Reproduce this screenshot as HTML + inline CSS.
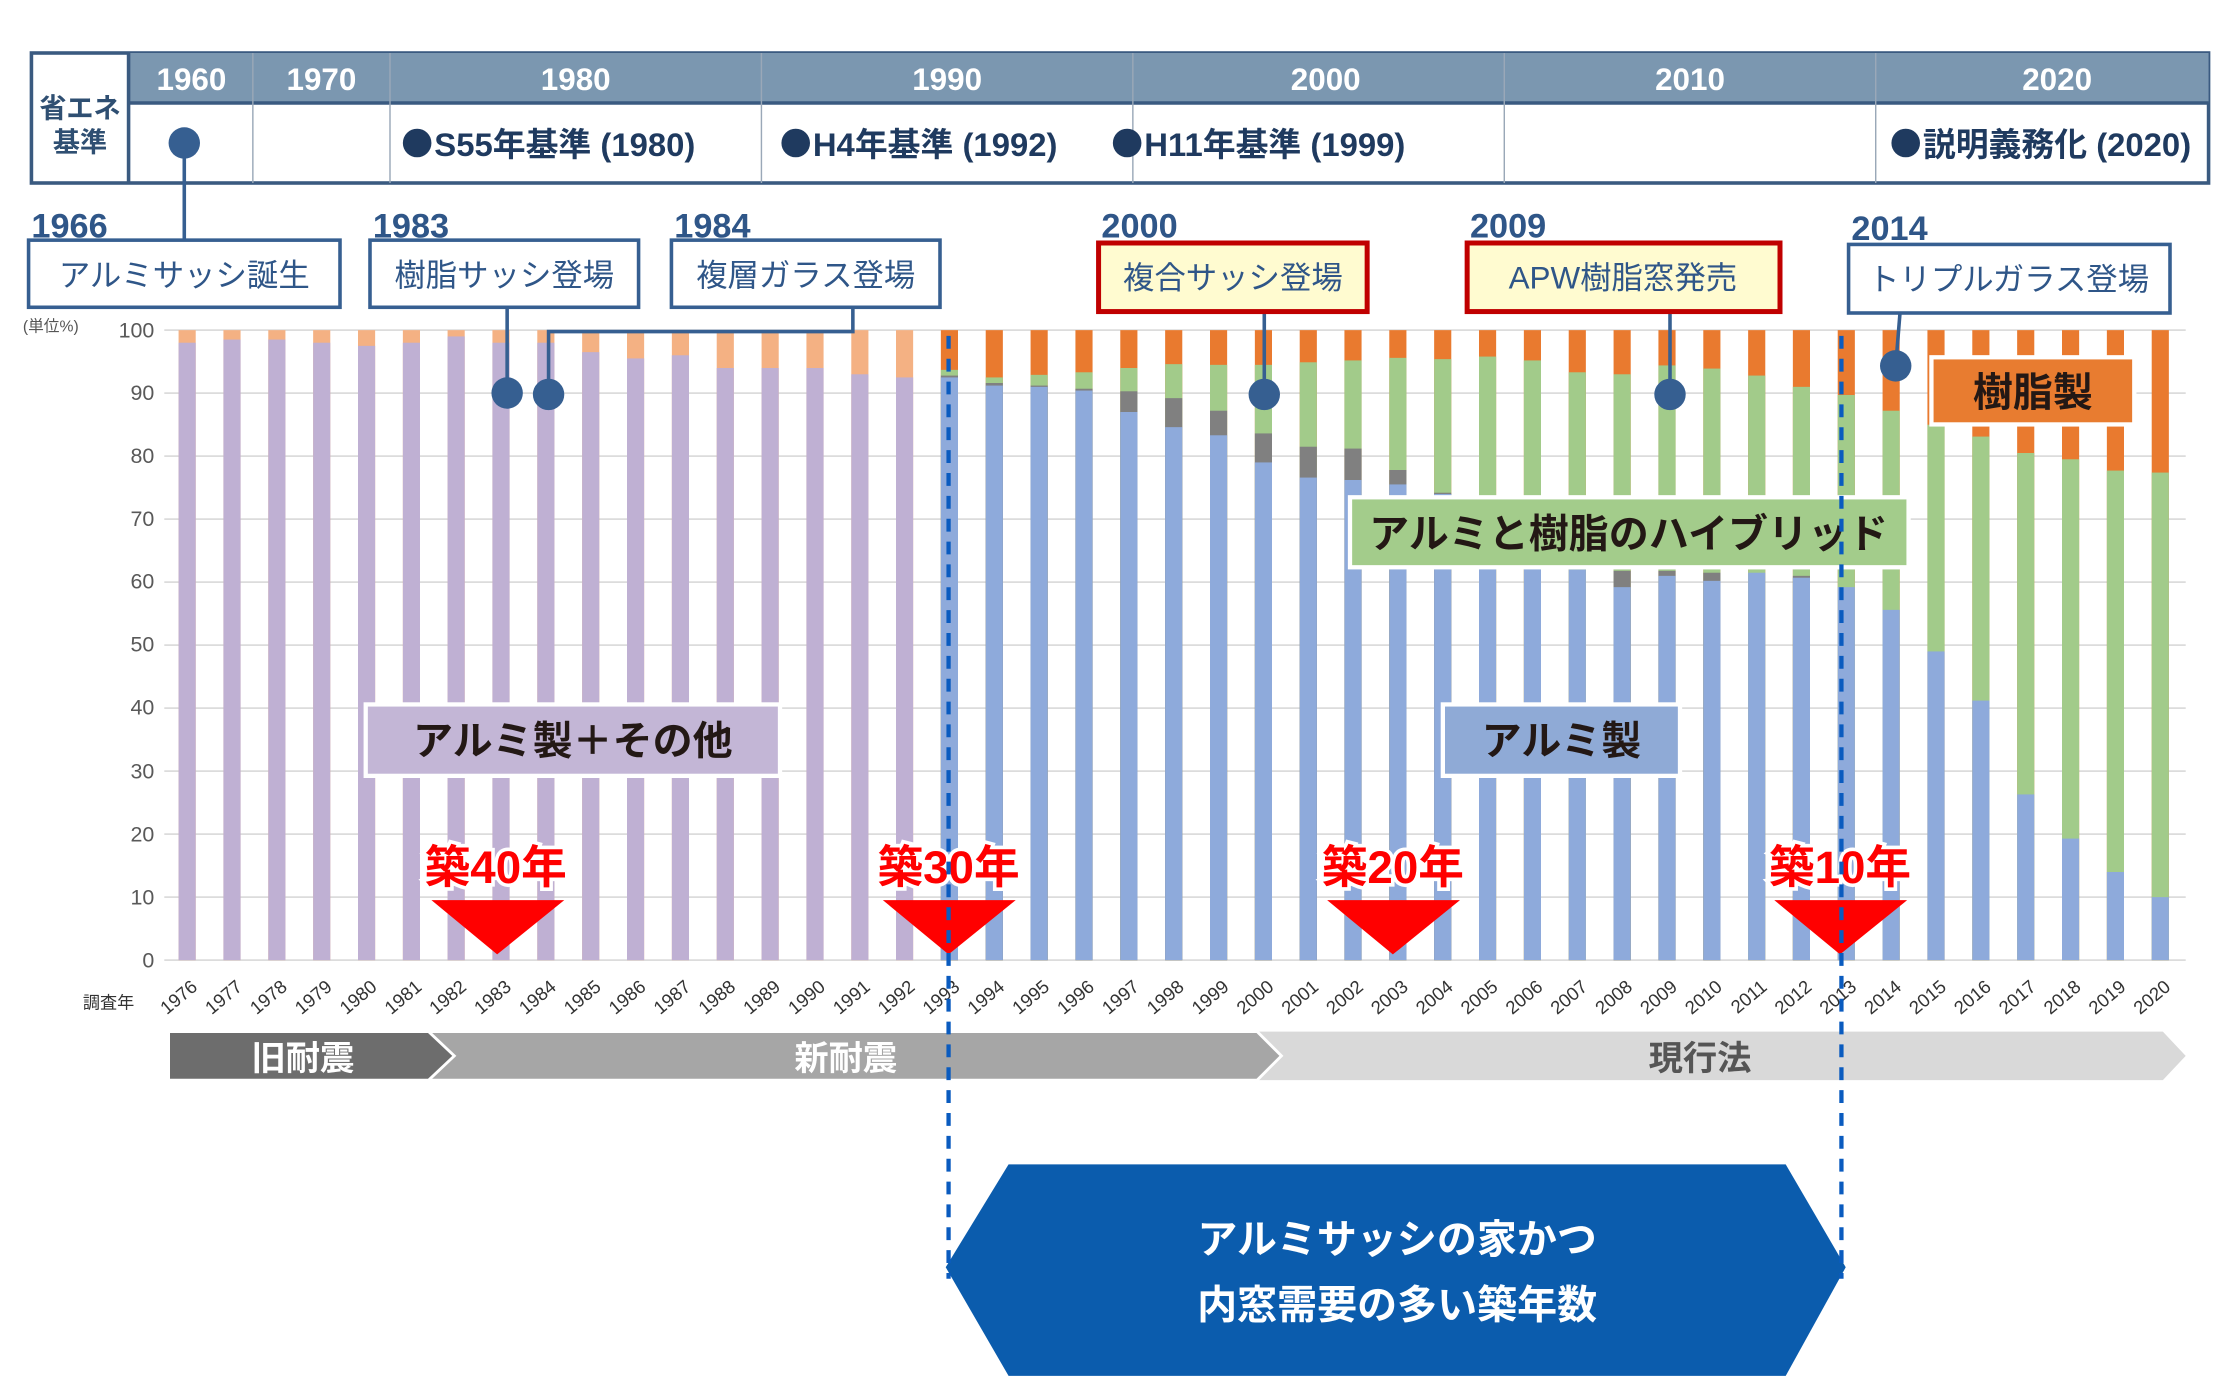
<!DOCTYPE html>
<html><head><meta charset="utf-8">
<style>
html,body{margin:0;padding:0;background:#fff;}
svg{display:block;font-family:"Liberation Sans","Noto Sans CJK JP",sans-serif;}
.lo{fill:#f4b183}.pu{fill:#bfb0d3}.or{fill:#e97a2f}.gr{fill:#a2cb8a}.gy{fill:#808080}.bl{fill:#8eaadb}
rect.b{width:12px}
.yl{font-size:15px;fill:#595959;text-anchor:end}
.xl{font-size:13px;fill:#333;text-anchor:end}
.ev{font-size:22px;fill:#2f5688}
.yr{font-size:24px;font-weight:bold;fill:#2f5688}
.st{font-size:23px;font-weight:bold;fill:#1f3a5f}
.red{font-size:32px;font-weight:bold;fill:#ff0000;stroke:#fff;stroke-width:5px;paint-order:stroke;text-anchor:middle}
.lb{font-size:28px;font-weight:bold;fill:#231815;text-anchor:middle}
</style></head><body>
<svg width="2240" height="1376" viewBox="0 0 1568 963" xmlns="http://www.w3.org/2000/svg">
<rect x="22" y="37" width="1524" height="91" fill="#fff" stroke="#3a5a80" stroke-width="2.5"/>
<rect x="90" y="37" width="1456" height="35" fill="#7b97b0"/>
<line x1="90" y1="37" x2="90" y2="128" stroke="#3a5a80" stroke-width="2.5"/>
<line x1="90" y1="72" x2="1546" y2="72" stroke="#3a5a80" stroke-width="2.5"/>
<g stroke="#9aa8b8" stroke-width="1">
<line x1="177" y1="37" x2="177" y2="128"/><line x1="273" y1="37" x2="273" y2="128"/><line x1="533" y1="37" x2="533" y2="128"/><line x1="793" y1="37" x2="793" y2="128"/><line x1="1053" y1="37" x2="1053" y2="128"/><line x1="1313" y1="37" x2="1313" y2="128"/>
</g>
<g font-size="22" font-weight="bold" fill="#fff" text-anchor="middle">
<text x="134" y="63">1960</text><text x="225" y="63">1970</text><text x="403" y="63">1980</text><text x="663" y="63">1990</text><text x="928" y="63">2000</text><text x="1183" y="63">2010</text><text x="1440" y="63">2020</text>
</g>
<text x="56" y="82" font-size="19" font-weight="bold" fill="#2f4f72" text-anchor="middle">省エネ</text>
<text x="56" y="106" font-size="19" font-weight="bold" fill="#2f4f72" text-anchor="middle">基準</text>
<g fill="#1f3a5f"><circle cx="292" cy="100" r="10"/><circle cx="557" cy="100" r="10"/><circle cx="789" cy="100" r="10"/><circle cx="1334" cy="100" r="10"/></g>
<text x="304" y="109" class="st">S55年基準 (1980)</text>
<text x="569" y="109" class="st">H4年基準 (1992)</text>
<text x="801" y="109" class="st">H11年基準 (1999)</text>
<text x="1346" y="109" class="st">説明義務化 (2020)</text>
<g stroke="#dcdcdc" stroke-width="1.2">
<line x1="115" y1="231" x2="1530" y2="231"/><line x1="115" y1="275.1" x2="1530" y2="275.1"/><line x1="115" y1="319.2" x2="1530" y2="319.2"/><line x1="115" y1="363.3" x2="1530" y2="363.3"/><line x1="115" y1="407.4" x2="1530" y2="407.4"/><line x1="115" y1="451.5" x2="1530" y2="451.5"/><line x1="115" y1="495.6" x2="1530" y2="495.6"/><line x1="115" y1="539.7" x2="1530" y2="539.7"/><line x1="115" y1="583.8" x2="1530" y2="583.8"/><line x1="115" y1="627.9" x2="1530" y2="627.9"/><line x1="115" y1="672" x2="1530" y2="672"/>
</g>
<g>
<text x="108" y="236" class="yl">100</text><text x="108" y="280" class="yl">90</text><text x="108" y="324" class="yl">80</text><text x="108" y="368" class="yl">70</text><text x="108" y="412" class="yl">60</text><text x="108" y="456" class="yl">50</text><text x="108" y="500" class="yl">40</text><text x="108" y="545" class="yl">30</text><text x="108" y="589" class="yl">20</text><text x="108" y="633" class="yl">10</text><text x="108" y="677" class="yl">0</text>
<text x="16" y="232" font-size="11" fill="#555">(単位%)</text>
</g>
<g>
<rect class="b lo" x="125" y="231" height="441"/><rect class="b pu" x="125" y="239.8" height="432.2"/>
<rect class="b lo" x="156.4" y="231" height="441"/><rect class="b pu" x="156.4" y="237.6" height="434.4"/>
<rect class="b lo" x="187.8" y="231" height="441"/><rect class="b pu" x="187.8" y="237.6" height="434.4"/>
<rect class="b lo" x="219.2" y="231" height="441"/><rect class="b pu" x="219.2" y="239.8" height="432.2"/>
<rect class="b lo" x="250.6" y="231" height="441"/><rect class="b pu" x="250.6" y="242" height="430"/>
<rect class="b lo" x="282" y="231" height="441"/><rect class="b pu" x="282" y="239.8" height="432.2"/>
<rect class="b lo" x="313.3" y="231" height="441"/><rect class="b pu" x="313.3" y="235.4" height="436.6"/>
<rect class="b lo" x="344.7" y="231" height="441"/><rect class="b pu" x="344.7" y="239.8" height="432.2"/>
<rect class="b lo" x="376.1" y="231" height="441"/><rect class="b pu" x="376.1" y="239.8" height="432.2"/>
<rect class="b lo" x="407.5" y="231" height="441"/><rect class="b pu" x="407.5" y="246.4" height="425.6"/>
<rect class="b lo" x="438.9" y="231" height="441"/><rect class="b pu" x="438.9" y="250.8" height="421.2"/>
<rect class="b lo" x="470.3" y="231" height="441"/><rect class="b pu" x="470.3" y="248.6" height="423.4"/>
<rect class="b lo" x="501.7" y="231" height="441"/><rect class="b pu" x="501.7" y="257.5" height="414.5"/>
<rect class="b lo" x="533.1" y="231" height="441"/><rect class="b pu" x="533.1" y="257.5" height="414.5"/>
<rect class="b lo" x="564.5" y="231" height="441"/><rect class="b pu" x="564.5" y="257.5" height="414.5"/>
<rect class="b lo" x="595.9" y="231" height="441"/><rect class="b pu" x="595.9" y="261.9" height="410.1"/>
<rect class="b lo" x="627.2" y="231" height="441"/><rect class="b pu" x="627.2" y="264.1" height="407.9"/>
</g>
<g>
<rect class="b or" x="658.6" y="231" height="441"/><rect class="b gr" x="658.6" y="258.8" height="413.2"/><rect class="b gy" x="658.6" y="262.8" height="409.2"/><rect class="b bl" x="658.6" y="264.1" height="407.9"/>
<rect class="b or" x="690" y="231" height="441"/><rect class="b gr" x="690" y="264.1" height="407.9"/><rect class="b gy" x="690" y="268" height="404"/><rect class="b bl" x="690" y="269.8" height="402.2"/>
<rect class="b or" x="721.4" y="231" height="441"/><rect class="b gr" x="721.4" y="262.3" height="409.7"/><rect class="b gy" x="721.4" y="269.8" height="402.2"/><rect class="b bl" x="721.4" y="270.7" height="401.3"/>
<rect class="b or" x="752.8" y="231" height="441"/><rect class="b gr" x="752.8" y="260.5" height="411.5"/><rect class="b gy" x="752.8" y="272" height="400"/><rect class="b bl" x="752.8" y="273.3" height="398.7"/>
<rect class="b or" x="784.2" y="231" height="441"/><rect class="b gr" x="784.2" y="257.5" height="414.5"/><rect class="b gy" x="784.2" y="273.8" height="398.2"/><rect class="b bl" x="784.2" y="288.3" height="383.7"/>
<rect class="b or" x="815.6" y="231" height="441"/><rect class="b gr" x="815.6" y="254.8" height="417.2"/><rect class="b gy" x="815.6" y="278.6" height="393.4"/><rect class="b bl" x="815.6" y="298.9" height="373.1"/>
<rect class="b or" x="847" y="231" height="441"/><rect class="b gr" x="847" y="255.3" height="416.7"/><rect class="b gy" x="847" y="287.4" height="384.6"/><rect class="b bl" x="847" y="304.6" height="367.4"/>
<rect class="b or" x="878.4" y="231" height="441"/><rect class="b gr" x="878.4" y="255.3" height="416.7"/><rect class="b gy" x="878.4" y="303.3" height="368.7"/><rect class="b bl" x="878.4" y="323.6" height="348.4"/>
<rect class="b or" x="909.8" y="231" height="441"/><rect class="b gr" x="909.8" y="253.5" height="418.5"/><rect class="b gy" x="909.8" y="312.6" height="359.4"/><rect class="b bl" x="909.8" y="334.2" height="337.8"/>
<rect class="b or" x="941.1" y="231" height="441"/><rect class="b gr" x="941.1" y="252.2" height="419.8"/><rect class="b gy" x="941.1" y="313.9" height="358.1"/><rect class="b bl" x="941.1" y="335.9" height="336.1"/>
<rect class="b or" x="972.5" y="231" height="441"/><rect class="b gr" x="972.5" y="250.4" height="421.6"/><rect class="b gy" x="972.5" y="328.9" height="343.1"/><rect class="b bl" x="972.5" y="339" height="333"/>
<rect class="b or" x="1003.9" y="231" height="441"/><rect class="b gr" x="1003.9" y="251.3" height="420.7"/><rect class="b gy" x="1003.9" y="344.8" height="327.2"/><rect class="b bl" x="1003.9" y="345.7" height="326.3"/>
<rect class="b or" x="1035.3" y="231" height="441"/><rect class="b gr" x="1035.3" y="249.5" height="422.5"/><rect class="b bl" x="1035.3" y="380.9" height="291.1"/>
<rect class="b or" x="1066.7" y="231" height="441"/><rect class="b gr" x="1066.7" y="252.2" height="419.8"/><rect class="b bl" x="1066.7" y="394.2" height="277.8"/>
<rect class="b or" x="1098.1" y="231" height="441"/><rect class="b gr" x="1098.1" y="260.5" height="411.5"/><rect class="b bl" x="1098.1" y="398.6" height="273.4"/>
<rect class="b or" x="1129.5" y="231" height="441"/><rect class="b gr" x="1129.5" y="261.9" height="410.1"/><rect class="b gy" x="1129.5" y="399.5" height="272.5"/><rect class="b bl" x="1129.5" y="410.9" height="261.1"/>
<rect class="b or" x="1160.9" y="231" height="441"/><rect class="b gr" x="1160.9" y="255.7" height="416.3"/><rect class="b gy" x="1160.9" y="399.5" height="272.5"/><rect class="b bl" x="1160.9" y="403" height="269"/>
<rect class="b or" x="1192.3" y="231" height="441"/><rect class="b gr" x="1192.3" y="257.9" height="414.1"/><rect class="b gy" x="1192.3" y="400.8" height="271.2"/><rect class="b bl" x="1192.3" y="406.5" height="265.5"/>
<rect class="b or" x="1223.7" y="231" height="441"/><rect class="b gr" x="1223.7" y="262.8" height="409.2"/><rect class="b bl" x="1223.7" y="400.8" height="271.2"/>
<rect class="b or" x="1255" y="231" height="441"/><rect class="b gr" x="1255" y="270.7" height="401.3"/><rect class="b gy" x="1255" y="403" height="269"/><rect class="b bl" x="1255" y="404.3" height="267.7"/>
<rect class="b or" x="1286.4" y="231" height="441"/><rect class="b gr" x="1286.4" y="276.4" height="395.6"/><rect class="b bl" x="1286.4" y="410.9" height="261.1"/>
<rect class="b or" x="1317.8" y="231" height="441"/><rect class="b gr" x="1317.8" y="287.4" height="384.6"/><rect class="b bl" x="1317.8" y="426.8" height="245.2"/>
<rect class="b or" x="1349.2" y="231" height="441"/><rect class="b gr" x="1349.2" y="297.2" height="374.8"/><rect class="b bl" x="1349.2" y="455.9" height="216.1"/>
<rect class="b or" x="1380.6" y="231" height="441"/><rect class="b gr" x="1380.6" y="305.5" height="366.5"/><rect class="b bl" x="1380.6" y="490.3" height="181.7"/>
<rect class="b or" x="1412" y="231" height="441"/><rect class="b gr" x="1412" y="317" height="355"/><rect class="b bl" x="1412" y="556" height="116"/>
<rect class="b or" x="1443.4" y="231" height="441"/><rect class="b gr" x="1443.4" y="321.4" height="350.6"/><rect class="b bl" x="1443.4" y="586.9" height="85.1"/>
<rect class="b or" x="1474.8" y="231" height="441"/><rect class="b gr" x="1474.8" y="329.3" height="342.7"/><rect class="b bl" x="1474.8" y="610.3" height="61.7"/>
<rect class="b or" x="1506.2" y="231" height="441"/><rect class="b gr" x="1506.2" y="330.7" height="341.3"/><rect class="b bl" x="1506.2" y="627.9" height="44.1"/>
</g>
<text x="94" y="706" font-size="12" fill="#333" text-anchor="end">調査年</text>
<g class="xl">
<text transform="translate(139,692) rotate(-40)">1976</text><text transform="translate(170.4,692) rotate(-40)">1977</text><text transform="translate(201.8,692) rotate(-40)">1978</text><text transform="translate(233.2,692) rotate(-40)">1979</text><text transform="translate(264.6,692) rotate(-40)">1980</text><text transform="translate(296,692) rotate(-40)">1981</text><text transform="translate(327.3,692) rotate(-40)">1982</text><text transform="translate(358.7,692) rotate(-40)">1983</text><text transform="translate(390.1,692) rotate(-40)">1984</text><text transform="translate(421.5,692) rotate(-40)">1985</text><text transform="translate(452.9,692) rotate(-40)">1986</text><text transform="translate(484.3,692) rotate(-40)">1987</text><text transform="translate(515.7,692) rotate(-40)">1988</text><text transform="translate(547.1,692) rotate(-40)">1989</text><text transform="translate(578.5,692) rotate(-40)">1990</text><text transform="translate(609.9,692) rotate(-40)">1991</text><text transform="translate(641.2,692) rotate(-40)">1992</text><text transform="translate(672.6,692) rotate(-40)">1993</text><text transform="translate(704,692) rotate(-40)">1994</text><text transform="translate(735.4,692) rotate(-40)">1995</text><text transform="translate(766.8,692) rotate(-40)">1996</text><text transform="translate(798.2,692) rotate(-40)">1997</text><text transform="translate(829.6,692) rotate(-40)">1998</text><text transform="translate(861,692) rotate(-40)">1999</text><text transform="translate(892.4,692) rotate(-40)">2000</text><text transform="translate(923.8,692) rotate(-40)">2001</text><text transform="translate(955.1,692) rotate(-40)">2002</text><text transform="translate(986.5,692) rotate(-40)">2003</text><text transform="translate(1017.9,692) rotate(-40)">2004</text><text transform="translate(1049.3,692) rotate(-40)">2005</text><text transform="translate(1080.7,692) rotate(-40)">2006</text><text transform="translate(1112.1,692) rotate(-40)">2007</text><text transform="translate(1143.5,692) rotate(-40)">2008</text><text transform="translate(1174.9,692) rotate(-40)">2009</text><text transform="translate(1206.3,692) rotate(-40)">2010</text><text transform="translate(1237.7,692) rotate(-40)">2011</text><text transform="translate(1269,692) rotate(-40)">2012</text><text transform="translate(1300.4,692) rotate(-40)">2013</text><text transform="translate(1331.8,692) rotate(-40)">2014</text><text transform="translate(1363.2,692) rotate(-40)">2015</text><text transform="translate(1394.6,692) rotate(-40)">2016</text><text transform="translate(1426,692) rotate(-40)">2017</text><text transform="translate(1457.4,692) rotate(-40)">2018</text><text transform="translate(1488.8,692) rotate(-40)">2019</text><text transform="translate(1520.2,692) rotate(-40)">2020</text>
</g>
<polygon points="880,722 1514,722 1530,739 1514,756 880,756 896,739" fill="#d9d9d9"/>
<polygon points="300,722 880,722 897,739 880,756 300,756 316,739" fill="#a6a6a6" stroke="#fff" stroke-width="2"/>
<polygon points="118,722 300,722 318,739 300,756 118,756" fill="#6d6d6d" stroke="#fff" stroke-width="2"/>
<text x="212" y="749" font-size="24" font-weight="bold" fill="#fff" text-anchor="middle">旧耐震</text>
<text x="592" y="749" font-size="24" font-weight="bold" fill="#fff" text-anchor="middle">新耐震</text>
<text x="1190" y="749" font-size="24" font-weight="bold" fill="#555" text-anchor="middle">現行法</text>
<rect x="256" y="493" width="290" height="50" fill="#c3b6d6" stroke="#fff" stroke-width="3"/>
<text x="401" y="528" class="lb">アルミ製＋その他</text>
<rect x="1010" y="493" width="166" height="50" fill="#8faad6" stroke="#fff" stroke-width="3"/>
<text x="1093" y="528" class="lb">アルミ製</text>
<rect x="945" y="348" width="391" height="49" fill="#a3cc8b" stroke="#fff" stroke-width="3"/>
<text x="1140" y="383" class="lb">アルミと樹脂のハイブリッド</text>
<rect x="1352" y="250" width="142" height="47" fill="#e87c30" stroke="#fff" stroke-width="3"/>
<text x="1423" y="284" class="lb">樹脂製</text>
<g fill="#ff0000">
<polygon points="302,630 395,630 348,668"/><polygon points="618,630 711,630 664,668"/><polygon points="929,630 1022,630 975,668"/><polygon points="1242,630 1335,630 1288,668"/>
</g>
<text x="347" y="618" class="red">築40年</text>
<text x="664" y="618" class="red">築30年</text>
<text x="975" y="618" class="red">築20年</text>
<text x="1288" y="618" class="red">築10年</text>
<polygon points="706,815 1250,815 1292,887 1250,963 706,963 662,887" fill="#0b5cad"/>
<text x="978" y="877" font-size="28" font-weight="bold" fill="#fff" text-anchor="middle">アルミサッシの家かつ</text>
<text x="978" y="923" font-size="28" font-weight="bold" fill="#fff" text-anchor="middle">内窓需要の多い築年数</text>
<g stroke="#0a5bbf" stroke-width="3" stroke-dasharray="9,7">
<line x1="664" y1="235" x2="664" y2="895"/><line x1="1289" y1="235" x2="1289" y2="895"/>
</g>
<g stroke="#365f91" stroke-width="2.5" fill="none">
<line x1="129" y1="100" x2="129" y2="168"/>
<line x1="355" y1="215" x2="355" y2="275"/>
<polyline points="597,215 597,232 384,232 384,276"/>
<line x1="885" y1="218" x2="885" y2="276"/>
<line x1="1169" y1="218" x2="1169" y2="276"/>
<line x1="1330" y1="219" x2="1327" y2="256"/>
</g>
<g fill="#365f91">
<circle cx="129" cy="100" r="11"/><circle cx="355" cy="275" r="11"/><circle cx="384" cy="276" r="11"/><circle cx="885" cy="276" r="11"/><circle cx="1169" cy="276" r="11"/><circle cx="1327" cy="256" r="11"/>
</g>
<g stroke="#365f91" stroke-width="2.5" fill="#fff">
<rect x="20" y="168" width="218" height="47"/><rect x="259" y="168" width="188" height="47"/><rect x="470" y="168" width="188" height="47"/><rect x="1294" y="171" width="225" height="48"/>
</g>
<g stroke="#c00000" stroke-width="3.5" fill="#fffbd0">
<rect x="769" y="170" width="188" height="48"/><rect x="1027" y="170" width="219" height="48"/>
</g>
<text x="129" y="200" class="ev" text-anchor="middle">アルミサッシ誕生</text>
<text x="353" y="200" class="ev" text-anchor="middle">樹脂サッシ登場</text>
<text x="564" y="200" class="ev" text-anchor="middle">複層ガラス登場</text>
<text x="863" y="202" class="ev" text-anchor="middle">複合サッシ登場</text>
<text x="1136" y="202" class="ev" text-anchor="middle">APW樹脂窓発売</text>
<text x="1406" y="203" class="ev" text-anchor="middle">トリプルガラス登場</text>
<text x="22" y="166" class="yr">1966</text>
<text x="261" y="166" class="yr">1983</text>
<text x="472" y="166" class="yr">1984</text>
<text x="771" y="166" class="yr">2000</text>
<text x="1029" y="166" class="yr">2009</text>
<text x="1296" y="168" class="yr">2014</text>
</svg>
</body></html>
